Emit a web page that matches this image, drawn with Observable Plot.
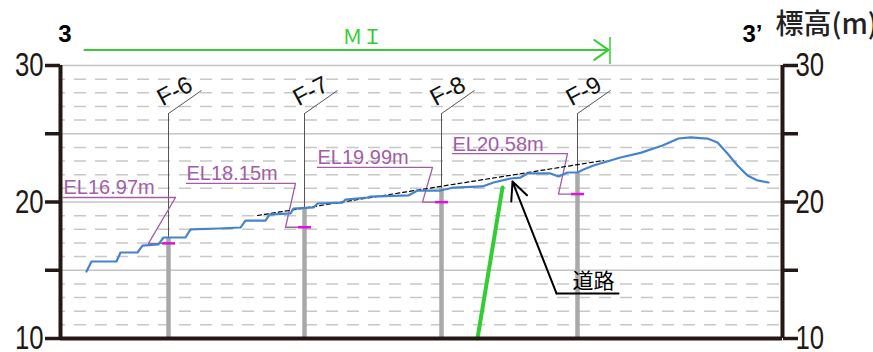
<!DOCTYPE html>
<html><head><meta charset="utf-8">
<script src="https://cdn.jsdelivr.net/npm/d3@7"></script>
<script src="https://cdn.jsdelivr.net/npm/@observablehq/plot@0.6"></script>
<style>
html,body{margin:0;padding:0;background:#fff;}
#chart svg{display:block;}
</style>
</head><body><div id="chart"></div>
<script>
// ---- data (distance along section in m, elevation in m) ----
const profileDist = [5.2,6.2,11.2,12,15.4,16.4,19.6,20.6,25,26,31.6,36,37,41,41.8,46,46.6,50.6,51.4,56.4,57,61.4,62,69.6,71.4,76,78.6,84.4,86.6,90,92,93.4,98,99.6,101.4,103.4,104.6,106.6,112,116,120.4,123.6,126,129.4,131.4,133.4,135.4,137.4,139.4,141.6];
const profileElev = [14.91,15.64,15.64,16.30,16.30,16.81,16.89,17.40,17.40,17.99,18.06,18.13,18.64,18.64,19.08,19.16,19.52,19.60,19.89,19.96,20.18,20.33,20.40,20.48,20.84,20.84,21.06,21.14,21.43,21.72,21.79,22.09,22.09,21.87,22.16,22.16,22.38,22.67,23.26,23.6,24.14,24.65,24.73,24.65,24.36,23.55,22.67,21.94,21.58,21.43];

const boreNames = ["F-6","F-7","F-8","F-9"];
const boreDist = [21.6, 48.8, 76.2, 103.4];
const boreGround = [17.4, 19.55, 21.0, 22.15];
const boreEL = [16.97, 18.15, 19.99, 20.58];
const elLabelLeft = [0.6, 25.2, 51.4, 78.4];
const elLabelRight = [23.0, 47.0, 74.4, 101.4];
const elLabelElev = [20.33, 21.36, 22.53, 23.55];
const elLeaderFoot = [17.6, 45.0, 72.4, 99.6];

const trendDist = [39.4, 108.6];
const trendElev = [19.01, 23.04];

const roadLineDist = [83.4, 88.4];
const roadLineElev = [10, 21.06];
const roadArrowTip = [90.4, 21.5];
const roadLabelBend = [99.2, 13.3];
const roadLabelEnd = 111.6;

const miStart = 4.8, miEnd = 109.6;
const yTicks = [10,15,20,25,30];
const gridMinor = d3.range(11,30).filter(d => d % 5 !== 0);
const gridMajor = [15,20,25,30];

// ---- derived tables ----
const profile = profileDist.map((d,i) => ({d, e: profileElev[i]}));
const bores = boreNames.map((name,i) => ({name, d: boreDist[i], g: boreGround[i], el: boreEL[i],
  left: elLabelLeft[i], right: elLabelRight[i], le: elLabelElev[i], foot: elLeaderFoot[i]}));
const elLeader = bores.flatMap(b => [
  {z:b.name, d:b.left, e:b.le}, {z:b.name, d:b.right, e:b.le},
  {z:b.name, d:b.foot, e:b.el}, {z:b.name, d:b.d - 1.1, e:b.el}]);
const trend = trendDist.map((d,i) => ({d, e: trendElev[i]}));
const road = roadLineDist.map((d,i) => ({d, e: roadLineElev[i]}));

const X0 = 0, X1 = 144.4;
const LEAD = 26.48, LEAD_TOP = 28.17;
const ink = "#231815", purple = "#a35ca8", green = "#33cc33";
const fmt = d => d % 10 === 0 ? String(d) : "";

const chart = Plot.plot({
  width: 873, height: 352,
  marginLeft: 60, marginRight: 91, marginTop: 65, marginBottom: 14,
  x: {domain: [X0, X1], axis: null},
  y: {domain: [10, 30]},
  style: {background: "#fff", overflow: "visible"},
  marks: [
    Plot.ruleY(gridMinor, {stroke: "#c8c8c8", strokeWidth: 1.5, strokeDasharray: "12,9", strokeDashoffset: -14}),
    Plot.ruleY(gridMajor, {stroke: "#c4c4c4", strokeWidth: 1.5}),
    // boreholes
    Plot.ruleX(bores, {x: "d", y1: "g", y2: 10, stroke: "#a9a9a9", strokeWidth: 4.5}),
    Plot.ruleX(bores, {x: "d", y1: "g", y2: LEAD, stroke: "#555", strokeWidth: 1}),
    Plot.link(bores, {x1: "d", y1: LEAD, x2: b => b.d + 6.6, y2: LEAD_TOP, stroke: "#555", strokeWidth: 1}),
    Plot.text(bores, {x: "d", y: LEAD, text: "name", rotate: -28, textAnchor: "start", lineAnchor: "bottom",
      dx: -6, dy: -7, fontSize: 24, fontFamily: "Liberation Sans", fill: "#111"}),
    // EL labels
    Plot.line(elLeader, {x: "d", y: "e", z: "z", stroke: purple, strokeWidth: 1.3, curve: "linear"}),
    Plot.text(bores, {x: "left", y: "le", text: b => `EL${b.el.toFixed(2)}m`, textAnchor: "start", lineAnchor: "bottom",
      dy: -3, fontSize: 20, fontFamily: "Liberation Sans", fill: purple}),
    Plot.ruleY(bores, {y: "el", x1: b => b.d - 1.2, x2: b => b.d + 1.4, stroke: "#e010e0", strokeWidth: 2.5}),
    // trend & profile
    Plot.line(trend, {x: "d", y: "e", stroke: "#000", strokeWidth: 1.2, strokeDasharray: "4,3"}),
    Plot.line(profile, {x: "d", y: "e", stroke: "#4584cc", strokeWidth: 2.2}),
    // road
    Plot.line(road, {x: "d", y: "e", stroke: green, strokeWidth: 4}),
    Plot.arrow([0], {x1: roadLabelBend[0], y1: roadLabelBend[1], x2: roadArrowTip[0], y2: roadArrowTip[1],
      stroke: "#000", strokeWidth: 2, headLength: 15, headAngle: 50, bend: 0}),
    Plot.line([{d: roadLabelBend[0], e: roadLabelBend[1]}, {d: roadLabelEnd, e: roadLabelBend[1]}],
      {x: "d", y: "e", stroke: "#000", strokeWidth: 2}),
    Plot.text(["道路"], {x: 102.4, y: 14.18, text: d => d, textAnchor: "start", fontSize: 21,
      fontFamily: "Noto Sans CJK JP", fill: "#000"}),
    // MI arrow
    Plot.arrow([0], {x1: miStart, y1: 31.14, x2: miEnd, y2: 31.14, stroke: green, strokeWidth: 2,
      headLength: 13, headAngle: 70, bend: 0}),
    Plot.ruleX([miEnd + 0.3], {y1: 30.07, y2: 32.05, stroke: green, strokeWidth: 1.5}),
    Plot.text(["ＭＩ"], {x: 56.4, y: 32.01, text: d => d, textAnchor: "start", fontSize: 20,
      fontFamily: "Noto Sans CJK JP", fill: green}),
    // top labels
    Plot.text(["3"], {x: 0.9, y: 32.25, text: d => d, fontSize: 24, fontWeight: "bold", fontFamily: "Liberation Sans", fill: "#000"}),
    Plot.text(["3’"], {x: 136.4, y: 32.3, text: d => d, textAnchor: "start", fontSize: 24, fontWeight: "bold", fontFamily: "Liberation Sans", fill: "#000"}),
    Plot.text(["標高(m)"], {x: 143.0, y: 32.93, text: d => d, textAnchor: "start", fontSize: 28, fontWeight: 500,
      fontFamily: "Noto Sans CJK JP", fill: "#222"}),
    // frame & axes
    Plot.ruleX([X0, X1], {y1: 10, y2: 30, stroke: ink, strokeWidth: 4}),
    Plot.ruleY([10], {stroke: ink, strokeWidth: 4}),
    Plot.axisY(yTicks, {anchor: "left", tickSize: 15, tickPadding: 2, tickFormat: fmt, fontSize: 33,
      fontFamily: "Liberation Sans", strokeWidth: 3.5, color: ink, label: null}),
    Plot.axisY(yTicks, {anchor: "right", tickSize: 15, tickPadding: -2, tickFormat: fmt, fontSize: 33,
      fontFamily: "Liberation Sans", strokeWidth: 3.5, color: ink, label: null})
  ]
});

// condense the axis numerals horizontally (around their anchor point)
chart.querySelectorAll('g[aria-label="y-axis tick label"] text').forEach(t => {
  const tr = t.getAttribute("transform") || "";
  const xa = t.getAttribute("x");
  let shift = "";
  if (xa !== null && !isNaN(+xa)) { shift = ` translate(${+xa},0)`; t.setAttribute("x", 0); }
  t.setAttribute("transform", `${tr}${shift} scale(0.78,1)`);
});
document.getElementById("chart").appendChild(chart);
</script>
</body></html>
